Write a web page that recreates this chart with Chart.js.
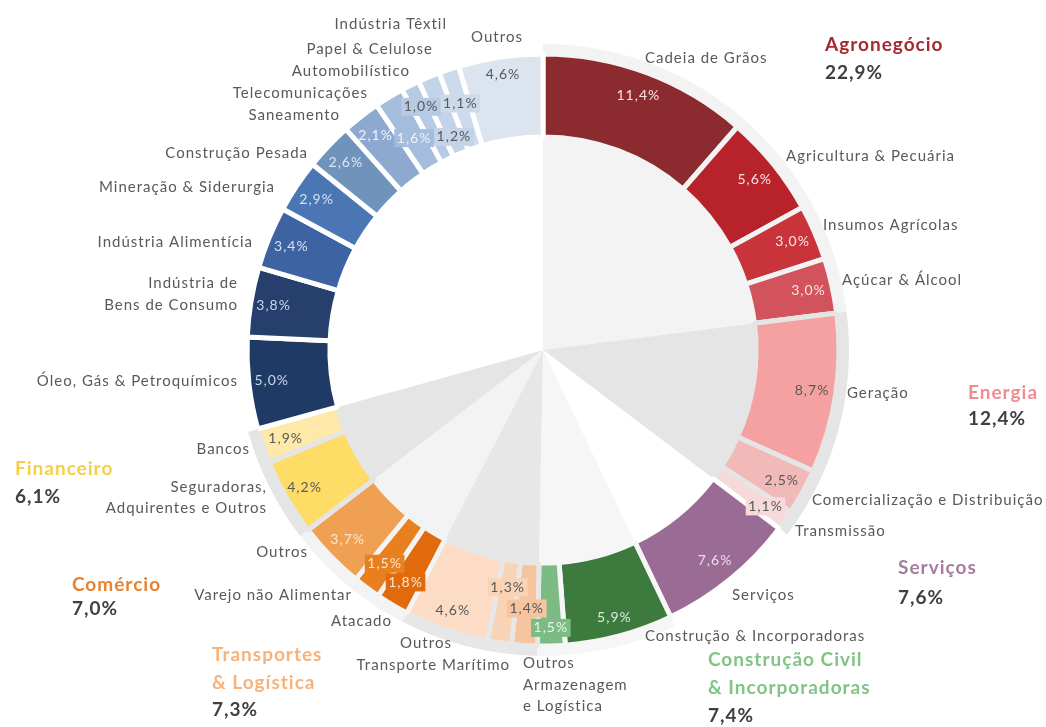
<!DOCTYPE html>
<html>
<head>
<meta charset="utf-8">
<script src="https://cdn.jsdelivr.net/npm/chart.js"></script>
<style>
	html, body { margin: 0; padding: 0; background: #fff; }
	#wrap { position: relative; width: 1046px; height: 727px; }
	#wrap canvas { position: absolute; left: 0; top: 0; }
</style>
</head>
<body>
<div id="wrap">
	<canvas id="back" width="1046" height="727"></canvas>
	<canvas id="ring" width="1046" height="727"></canvas>
</div>
<script>
// sectors (outer ring), clockwise from 12 o'clock
const segments = [
	'Cadeia de Grãos', 'Agricultura & Pecuária', 'Insumos Agrícolas', 'Açúcar & Álcool',
	'Geração', 'Comercialização e Distribuição', 'Transmissão',
	'Serviços',
	'Construção & Incorporadoras', 'Outros',
	'Armazenagem\ne Logística', 'Transporte Marítimo', 'Outros',
	'Atacado', 'Varejo não Alimentar', 'Outros',
	'Seguradoras,\nAdquirentes e Outros', 'Bancos',
	'Óleo, Gás & Petroquímicos', 'Indústria de\nBens de Consumo', 'Indústria Alimentícia',
	'Mineração & Siderurgia', 'Construção Pesada', 'Saneamento', 'Telecomunicações',
	'Automobilístico', 'Papel & Celulose', 'Indústria Têxtil', 'Outros'
];
const shares = [
	11.4, 5.6, 3.0, 3.0,
	8.7, 2.5, 1.1,
	7.6,
	5.9, 1.5,
	1.4, 1.3, 4.6,
	1.8, 1.5, 3.7,
	4.2, 1.9,
	5.0, 3.8, 3.4, 2.9, 2.6, 2.1, 1.6, 1.0, 1.2, 1.1, 4.6
];
const segmentGroup = [0, 0, 0, 0, 1, 1, 1, 2, 3, 3, 4, 4, 4, 5, 5, 5, 6, 6, 7, 7, 7, 7, 7, 7, 7, 7, 7, 7, 7];

const groups = ['Agronegócio', 'Energia', 'Serviços', 'Construção Civil\n& Incorporadoras',
	'Transportes\n& Logística', 'Comércio', 'Financeiro', 'Indústria'];
const groupShares = [22.9, 12.4, 7.6, 7.4, 7.3, 7.0, 6.1, null];

// styles
const segColors = [
	'#8c2b2f', '#b8232b', '#c9343b', '#d2535b',
	'#f5a1a1', '#f2b9b9', '#f8d9d9',
	'#9a6b94',
	'#3c7a3e', '#7dbb84',
	'#f6c49e', '#f9d3b5', '#fcdcc5',
	'#e06a0c', '#e8801f', '#f0a052',
	'#ffdc66', '#ffe9a8',
	'#1f3a64', '#263f6c', '#3e63a3', '#4a77b4', '#6f93ba', '#8da9cf', '#a4bddd',
	'#b6cae4', '#c3d3ea', '#ccdaec', '#dce4f0'
];
const groupShade = ['#f3f3f3', '#e5e5e5', '#ffffff', '#f6f6f6', '#e7e7e7', '#f3f3f3', '#e5e5e5', '#ffffff'];
const groupInk = ['#a32b30', '#f28b8d', '#a47d9f', '#82c485', '#f7b27a', '#e9822e', '#f6cf45'];

const light = '#fbe3e3';
const dark = '#595959';
const pctInk = [
	light, light, light, light,
	dark, dark, dark,
	'#eedcec',
	'#d9ecd9', '#eaf6ea',
	dark, dark, dark,
	'#fde6cc', '#fde6cc', '#fde6cc',
	dark, dark,
	'#c9d6ea', '#c9d6ea', '#d6e0f0', '#d6e0f0', '#dde6f2', '#eef3fa', '#eef3fa',
	dark, dark, dark, dark
];
const pctBoxed = [
	false, false, false, false,
	false, false, true,
	false,
	false, true,
	true, true, false,
	true, true, false,
	false, false,
	false, false, false, false, false, false, true, true, true, true, false
];
// distance of each percentage label from the outer edge of its slice
const pctInset = [
	24, 24, 24, 24,
	24, 24, 24,
	24,
	19, 18,
	37, 56, 20,
	26, 30, 24,
	21, 24,
	23, 23, 24, 24, 24, 24, 48, 24, 65, 36, 18
];
// name label anchors: [x, y, align]
const nameSpots = [
	[645, 58, 'left'], [786, 156, 'left'], [823, 225, 'left'], [842, 280, 'left'],
	[847, 393, 'left'], [812, 500, 'left'], [795, 531, 'left'],
	[732, 595, 'left'],
	[645, 636, 'left'], [523, 663, 'left'],
	[523, 685, 'left'], [510, 665, 'right'], [426, 643, 'center'],
	[392, 621, 'right'], [352, 595, 'right'], [308, 552, 'right'],
	[267, 487, 'right'], [250, 449, 'right'],
	[238, 381, 'right'], [238, 283, 'right'], [253, 242, 'right'],
	[275, 187, 'right'], [308, 153, 'right'], [340, 115, 'right'], [368, 93, 'right'],
	[410, 71, 'right'], [433, 49, 'right'], [447, 24, 'right'], [497, 37, 'center']
];
// group titles: [x, y of first line, line gap]
const groupSpots = [
	[825, 45, 28], [968, 393, 26], [898, 568, 30], [708, 660, 28],
	[212, 655, 27.5], [72, 585, 24], [15, 469, 28]
];

const fmt = v => v.toFixed(1).replace('.', ',') + '%';

const groupSums = groups.map((g, gi) =>
	shares.reduce((s, v, i) => segmentGroup[i] === gi ? s + v : s, 0));

const common = {
	responsive: false,
	animation: false,
	devicePixelRatio: 1,
	layout: { padding: { left: 40, right: 0, top: 0, bottom: 27 } },
	plugins: { legend: { display: false }, tooltip: { enabled: false } }
};

new Chart(document.getElementById('back').getContext('2d'), {
	type: 'pie',
	data: {
		labels: groups,
		datasets: [{
			data: groupSums,
			backgroundColor: groupShade,
			borderWidth: 0
		}]
	},
	options: Object.assign({}, common, { radius: 306 })
});

const ringLabels = {
	id: 'ringLabels',
	afterDatasetsDraw(chart) {
		const ctx = chart.ctx;
		const arcs = chart.getDatasetMeta(0).data;
		ctx.save();
		ctx.textBaseline = 'middle';

		ctx.font = '14px Lato';
		ctx.letterSpacing = '1px';
		ctx.textAlign = 'center';
		arcs.forEach(function (arc, i) {
			const p = arc.getProps(['x', 'y', 'startAngle', 'endAngle', 'outerRadius'], true);
			const mid = (p.startAngle + p.endAngle) / 2;
			const r = p.outerRadius - pctInset[i];
			const px = p.x + Math.cos(mid) * r;
			const py = p.y + Math.sin(mid) * r;
			const txt = fmt(shares[i]);
			if (pctBoxed[i]) {
				const w = ctx.measureText(txt).width + 5;
				ctx.fillStyle = segColors[i];
				ctx.fillRect(px - w / 2, py - 9, w, 18);
			}
			ctx.fillStyle = pctInk[i];
			ctx.fillText(txt, px, py);
		});

		ctx.font = '15px Lato';
		ctx.letterSpacing = '1px';
		ctx.fillStyle = '#595959';
		segments.forEach(function (name, i) {
			const s = nameSpots[i];
			const gap = segmentGroup[i] === 7 ? 22 : 21;
			ctx.textAlign = s[2];
			name.split('\n').forEach(function (line, k) {
				ctx.fillText(line, s[0], s[1] + k * gap);
			});
		});

		ctx.textAlign = 'left';
		ctx.letterSpacing = '1px';
		groupSpots.forEach(function (s, gi) {
			const lines = groups[gi].split('\n');
			ctx.font = 'bold 19px Lato';
			ctx.fillStyle = groupInk[gi];
			lines.forEach(function (line, k) {
				ctx.fillText(line, s[0], s[1] + k * s[2]);
			});
			ctx.fillStyle = '#404040';
			ctx.fillText(fmt(groupShares[gi]), s[0], s[1] + lines.length * s[2]);
		});
		ctx.restore();
	}
};

new Chart(document.getElementById('ring').getContext('2d'), {
	type: 'doughnut',
	data: {
		labels: segments,
		datasets: [{
			data: shares,
			backgroundColor: segColors,
			borderColor: segmentGroup.map(g => groupShade[g]),
			borderWidth: 5
		}]
	},
	options: Object.assign({}, common, { radius: 296, cutout: '72%' }),
	plugins: [ringLabels]
});
</script>
</body>
</html>
